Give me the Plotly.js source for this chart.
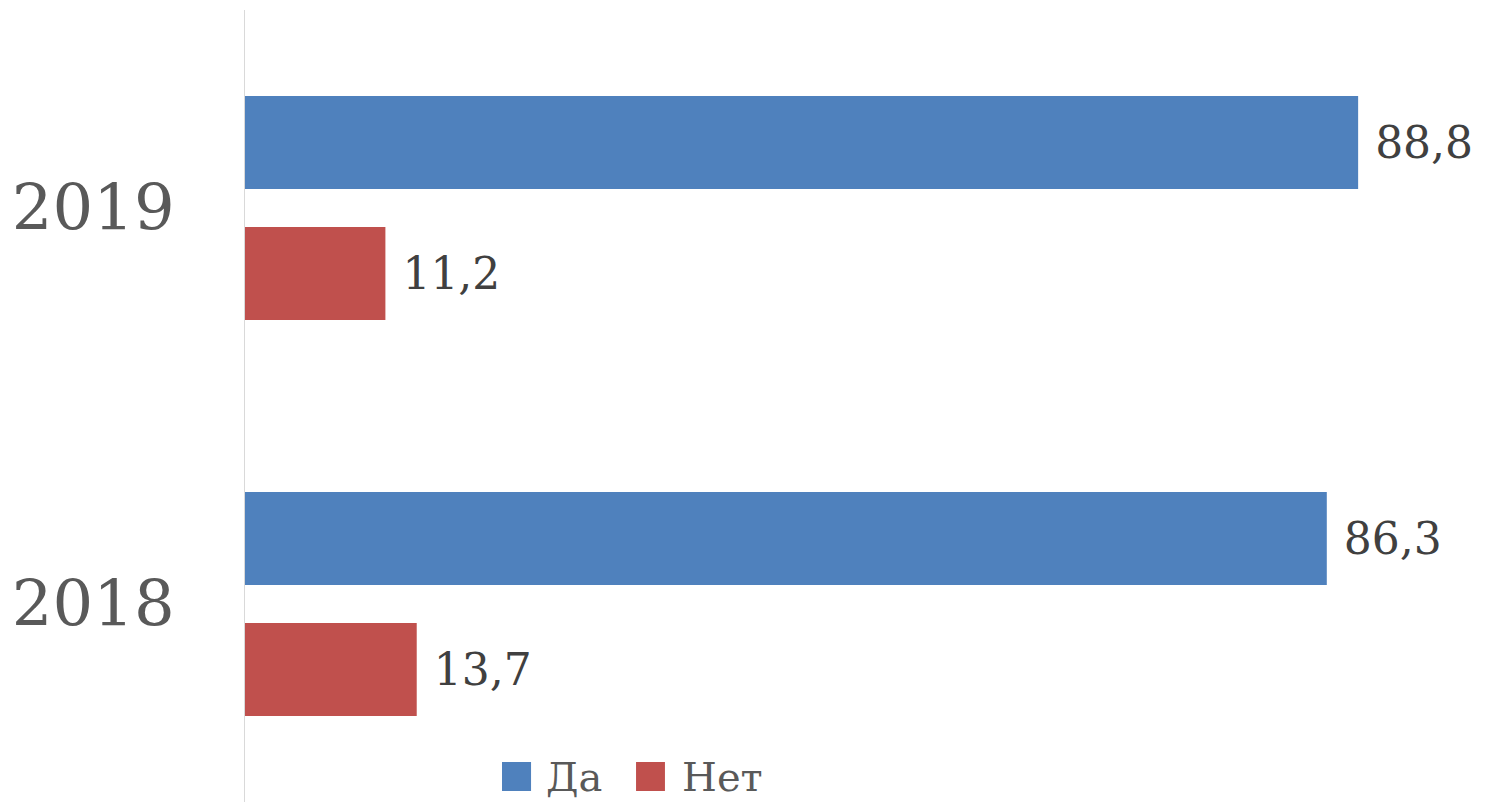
<!DOCTYPE html>
<html>
<head>
<meta charset="utf-8">
<script src="https://cdn.plot.ly/plotly-3.0.1.min.js"></script>
<style>html,body{margin:0;padding:0;background:#fff;}#chart{width:1486px;height:802px;}</style>
</head>
<body>
<div id="chart"></div>
<script>
var years = ['2019', '2018'];
var seriesNames = ['Да', 'Нет'];
var yesValues = [88.8, 86.3];
var noValues = [11.2, 13.7];
var colors = ['#4F81BD', '#C0504D'];

var fontFam = 'DejaVu Serif, Liberation Serif, serif';

function mk(name, vals, color) {
  return {
    type: 'bar', orientation: 'h', name: name,
    x: vals, y: years,
    marker: {color: color},
    texttemplate: '\u00a0%{x:.1f}',
    textposition: 'outside',
    cliponaxis: false,
    textfont: {family: fontFam, size: 44, color: '#404040'},
    hoverinfo: 'x+name',
    showlegend: false
  };
}

var data = [mk(seriesNames[0], yesValues, colors[0]), mk(seriesNames[1], noValues, colors[1])];

// Legend drawn manually to match the large legend swatches of the reference
var legX = [[0.2071, 0.2305], [0.3151, 0.3384]];
var legTextX = [0.2417, 0.3513];
var shapes = [], annotations = [];
for (var i = 0; i < seriesNames.length; i++) {
  shapes.push({type: 'rect', xref: 'paper', yref: 'paper',
    x0: legX[i][0], x1: legX[i][1], y0: 0.0139, y1: 0.0505,
    fillcolor: colors[i], line: {width: 0}});
  annotations.push({xref: 'paper', yref: 'paper', x: legTextX[i], y: 0.0316,
    xanchor: 'left', yanchor: 'middle', showarrow: false, text: seriesNames[i],
    font: {family: fontFam, size: 40, color: '#595959'}, borderpad: 0});
}

var layout = {
  width: 1486, height: 802,
  margin: {l: 245, r: 0, t: 10, b: 0},
  paper_bgcolor: '#ffffff', plot_bgcolor: 'rgba(0,0,0,0)',
  separators: ', ',
  barmode: 'group',
  bargap: 0.338,
  bargroupgap: 0.29,
  xaxis: {range: [0, 99.0], visible: false, showgrid: false, zeroline: false},
  yaxis: {
    type: 'category', categoryorder: 'array', categoryarray: years,
    range: [1.5, -0.5],
    showline: true, linecolor: '#d9d9d9', linewidth: 1.5,
    showgrid: false, zeroline: false,
    ticks: '', ticklabelstandoff: 56,
    tickfont: {family: fontFam, size: 64, color: '#595959'}
  },
  showlegend: false,
  shapes: shapes,
  annotations: annotations
};

Plotly.newPlot('chart', data, layout, {displayModeBar: false, staticPlot: true});
</script>
</body>
</html>
